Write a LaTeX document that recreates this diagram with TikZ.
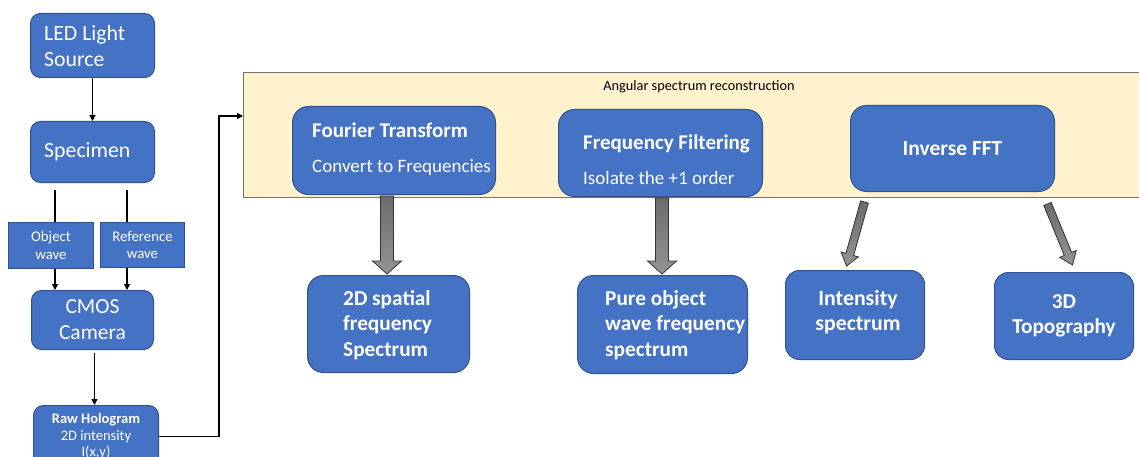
\documentclass[tikz,border=0pt]{standalone}
\usepackage{fontspec}
\setmainfont{Carlito}
\usetikzlibrary{arrows.meta,calc}
\definecolor{boxblue}{HTML}{4472C4}
\definecolor{boxline}{HTML}{2F528F}
\definecolor{panelfill}{HTML}{FFF2CC}
\newcommand\blockarr[5]{%
  \coordinate (hb) at ($(#2)!#5!(#1)$);
  \draw[barrow] ($(#1)!#3!90:(#2)$) -- ($(hb)!#3!90:(#2)$) -- ($(hb)!#4!90:(#2)$) -- (#2)
    -- ($(hb)!#4!-90:(#2)$) -- ($(hb)!#3!-90:(#2)$) -- ($(#1)!#3!-90:(#2)$) -- cycle;}
\begin{document}
\begin{tikzpicture}[x=1pt,y=-1pt,
  box/.style={draw=boxline, fill=boxblue, line width=1pt, rounded corners=11pt, inner sep=0pt, anchor=north west, text=white},
  sbox/.style={draw=boxline, fill=boxblue, line width=1pt, inner sep=0pt, anchor=north west, text=white, align=center},
  txt/.style={text=white, inner sep=0pt, align=left, anchor=west},
  conn/.style={line width=1.2pt, -{Triangle[length=6pt,width=6pt]}},
  plain/.style={line width=1.2pt},
  barrow/.style={draw=black!80, line width=0.8pt, top color=black!58, bottom color=black!42},
  panel/.style={draw=black!55, fill=panelfill, line width=1pt, inner sep=0pt, anchor=north west}
]
\useasboundingbox (0,0) rectangle (1139,457);

% panel
\node[panel, minimum width=920, minimum height=125] (asr) at (243,72) {};
\node[inner sep=0pt, font=\fontsize{14.3}{17}\selectfont] (asrlab) at (699,87) {Angular spectrum reconstruction};

% left column
\node[box, rounded corners=10pt, minimum width=124, minimum height=64] (led) at (30,13) {};
\node[txt, font=\fontsize{21.8}{26}\selectfont] (ledt) at (44,46) {LED Light\\Source};

\node[box, rounded corners=10pt, minimum width=124, minimum height=61] (spec) at (30,121) {};
\node[txt, font=\fontsize{21.8}{26}\selectfont] (spect) at (44,152) {Specimen};

\node[sbox, minimum width=85, minimum height=46, font=\fontsize{14.8}{17.5}\selectfont] (ow) at (8,222) {Object\\wave};
\node[sbox, minimum width=84, minimum height=45, font=\fontsize{14.8}{17.5}\selectfont] (rw) at (100,222) {Reference\\wave};

\node[box, rounded corners=10pt, minimum width=122, minimum height=59, align=center, font=\fontsize{21.5}{26}\selectfont] (cmos) at (31,290) {CMOS\\Camera};

\node[box, rounded corners=10pt, minimum width=125, minimum height=62, align=center, font=\fontsize{14.5}{16.5}\selectfont] (raw) at (33,405) {\textbf{Raw Hologram}\\2D intensity\\I(x,y)};

% left connectors
\draw[conn] (led.south) -- (spec.north);
\coordinate (o1) at (55,190);
\coordinate (r1) at (127,190);
\draw[plain] (o1) -- (o1 |- ow.north);
\draw[plain] (r1) -- (r1 |- rw.north);
\draw[conn] (o1 |- ow.south) -- (o1 |- cmos.north);
\draw[conn] (r1 |- rw.south) -- (r1 |- cmos.north);
\coordinate (c1) at ($(cmos.south)+(2,3)$);
\draw[conn] (c1) -- (c1 |- raw.north);
\coordinate (bend) at (219,116);
\draw[conn] (raw.east) -| (bend) -- (bend -| asr.west);

% top row in panel
\node[box, rounded corners=16pt, minimum width=203, minimum height=88] (ft) at (292,106) {};
\node[txt, font=\fontsize{19}{35}\selectfont] (ftt) at (312,149) {{\fontsize{21}{35}\selectfont\bfseries Fourier Transform}\\Convert to Frequencies};

\node[box, rounded corners=16pt, minimum width=204, minimum height=87] (ff) at (558,109) {};
\node[txt, font=\fontsize{19}{35}\selectfont] (fft) at (583,160) {{\fontsize{21}{35}\selectfont\bfseries Frequency Filtering}\\Isolate the +1 order};

\node[box, rounded corners=16pt, minimum width=204, minimum height=86, font=\bfseries\fontsize{21.5}{24}\selectfont] (ifft) at (850,105) {\raisebox{-4pt}{Inverse FFT}};

% bottom row
\node[box, rounded corners=16pt, minimum width=162, minimum height=97] (sp) at (307,275) {};
\node[txt, font=\bfseries\fontsize{21.3}{25.5}\selectfont] (spt) at (343,325) {2D spatial\\frequency\\Spectrum};

\node[box, rounded corners=16pt, minimum width=170, minimum height=98] (po) at (577,275) {};
\node[txt, font=\bfseries\fontsize{21.3}{25.5}\selectfont] (pot) at (605,325) {Pure object\\wave frequency\\spectrum};

\node[box, rounded corners=14pt, minimum width=139, minimum height=89] (in) at (785,270) {};
\node[txt, anchor=center, align=center, font=\bfseries\fontsize{21.8}{25.5}\selectfont] (int) at (858,312) {Intensity\\spectrum};

\node[box, rounded corners=14pt, minimum width=139, minimum height=87, align=center, font=\bfseries\fontsize{21.3}{25.5}\selectfont] (td) at (994,272) {3D\\Topography};

% block arrows
\coordinate (fa) at ($(ft.south)+(-7,1)$);
\coordinate (fb) at ($(fa |- sp.north)+(0,-1)$);
\blockarr{fa}{fb}{6.5pt}{14.5pt}{13pt}
\coordinate (ga) at ($(ff.south)+(1.5,1)$);
\coordinate (gb) at ($(ga |- po.north)+(0,-1)$);
\blockarr{ga}{gb}{6.5pt}{14.5pt}{13pt}
\coordinate (ia) at ($(ifft.south)+(-88,10)$);
\coordinate (ib) at ($(in.north)+(-8.5,-4)$);
\blockarr{ia}{ib}{4pt}{9pt}{12pt}
\coordinate (ja) at ($(ifft.south)+(95,12)$);
\coordinate (jb) at ($(td.north)+(8.5,-7)$);
\blockarr{ja}{jb}{4pt}{9pt}{12pt}
\end{tikzpicture}
\end{document}
